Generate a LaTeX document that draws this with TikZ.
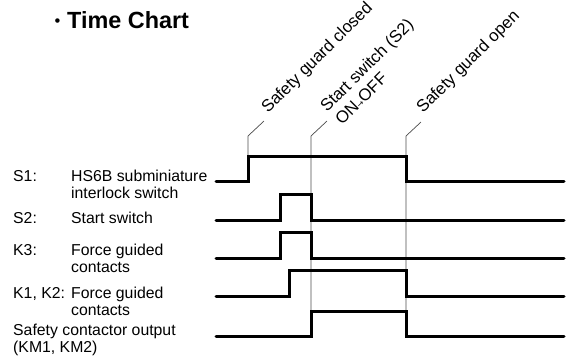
\documentclass[tikz,border=0pt]{standalone}
\usepackage{fontspec}
\setmainfont{Liberation Sans}
\newfontfamily\arrowfont{DejaVu Sans}
\usepackage{tikz}
\usetikzlibrary{arrows.meta}

\begin{document}
\begin{tikzpicture}[x=1pt, y=-1pt,
    sig/.style={line width=3pt, line cap=round, line join=miter},
    guide/.style={line width=0.7pt, black!70},
    lbl/.style={inner sep=0pt, anchor=base west, font=\fontsize{15.8}{17}\selectfont},
    tag/.style={lbl, rotate=45, font=\fontsize{16.8}{19}\selectfont}]

    \useasboundingbox (0,0) rectangle (568,360);

    % ==========================================
    % Title
    % ==========================================
    \node[inner sep=0pt, anchor=base, font=\fontsize{16.5}{17}\selectfont] (dot) at (57.5,26.5) {•};
    \node[lbl, font=\bfseries\fontsize{23.4}{25}\selectfont] (title) at (67,28) {Time Chart};

    % ==========================================
    % Event times
    % ==========================================
    \def\xA{216}     % start of all traces
    \def\xB{564}     % end of all traces
    \def\xClose{248}
    \def\xPush{280}
    \def\xRise{289}
    \def\xStart{311}
    \def\xOpen{406}

    % ==========================================
    % Thin guide lines and leaders
    % ==========================================
    \coordinate (lead1) at (\xClose,136);
    \coordinate (lead2) at (\xStart,136);
    \coordinate (lead3) at (\xOpen,136);
    \draw[guide] (\xClose,156.5) -- (lead1) -- ++(16,-15);
    \draw[guide] (\xStart,311) -- (lead2) -- ++(16,-15);
    \draw[guide] (\xOpen,311) -- (lead3) -- ++(15,-14);

    % rotated event labels
    \node[tag] (closed) at (268,114) {Safety guard closed};
    \node[tag] (start1) at (327,113) {Start switch (S2)};
    \node[tag] (start2) at (342,126) {ON{\arrowfont\fontsize{8}{8}\selectfont →}OFF};
    \node[tag] (open)   at (423,114) {Safety guard open};

    % ==========================================
    % Signal traces
    % ==========================================
    % S1
    \draw[sig] (\xA,181) -- (\xClose,181) -- (\xClose,156.5) -- (\xOpen,156.5) -- (\xOpen,181) -- (\xB,181);
    % S2
    \draw[sig] (\xA,220) -- (\xPush,220) -- (\xPush,194) -- (\xStart,194) -- (\xStart,220) -- (\xB,220);
    % K3
    \draw[sig] (\xA,258) -- (\xPush,258) -- (\xPush,232) -- (\xStart,232) -- (\xStart,258) -- (\xB,258);
    % K1, K2
    \draw[sig] (\xA,296) -- (\xRise,296) -- (\xRise,270) -- (\xOpen,270) -- (\xOpen,296) -- (\xB,296);
    % KM1, KM2
    \draw[sig] (\xA,336) -- (\xStart,336) -- (\xStart,311) -- (\xOpen,311) -- (\xOpen,336) -- (\xB,336);

    % ==========================================
    % Signal names
    % ==========================================
    \node[lbl] (s1a) at (13,181) {S1:};
    \node[lbl] (s1b) at (71,181) {HS6B subminiature};
    \node[lbl] (s1c) at (71,198) {interlock switch};

    \node[lbl] (s2a) at (13,223) {S2:};
    \node[lbl] (s2b) at (71,223) {Start switch};

    \node[lbl] (k3a) at (13,255) {K3:};
    \node[lbl] (k3b) at (71,255) {Force guided};
    \node[lbl] (k3c) at (71,272) {contacts};

    \node[lbl] (k1a) at (13,298) {K1, K2:};
    \node[lbl] (k1b) at (71,298) {Force guided};
    \node[lbl] (k1c) at (71,315.5) {contacts};

    \node[lbl] (kma) at (13,335) {Safety contactor output};
    \node[lbl] (kmb) at (13,352) {(KM1, KM2)};

\end{tikzpicture}
\end{document}
